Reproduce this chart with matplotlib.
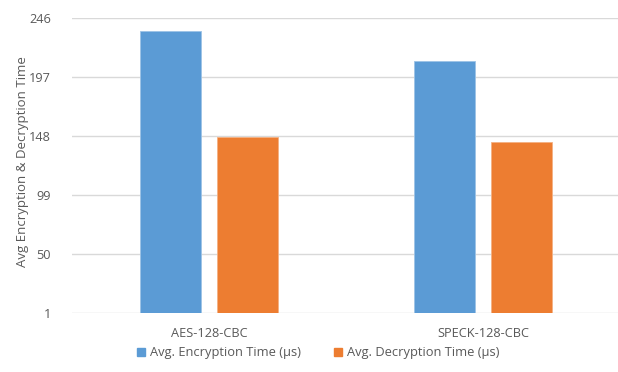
import numpy as np
import matplotlib.pyplot as plt
from matplotlib.patches import Patch

# timing results per cipher (microseconds)
ciphers = ['AES-128-CBC', 'SPECK-128-CBC']
enc_times = [235, 210]
dec_times = [147, 143]
yticks = [1, 50, 99, 148, 197, 246]

blue = '#5B9BD5'
orange = '#ED7D31'
grey_text = '#595959'

plt.rcParams['font.family'] = ['Open Sans', 'DejaVu Sans']

fig = plt.figure(figsize=(6.18, 3.72), dpi=100)
ax = fig.add_axes([0.1165, 0.1586, 0.887, 0.793])

x = np.arange(len(ciphers))
w = 0.222
ax.bar(x - 0.141, enc_times, w, color=blue, edgecolor='#9DC3E6', linewidth=0.6,
       zorder=3)
ax.bar(x + 0.141, dec_times, w, color=orange, edgecolor='#F4B183', linewidth=0.6,
       zorder=3)

ax.set_xlim(-0.5, 1.5)
ax.set_ylim(1, 246)
ax.set_yticks(yticks)
ax.set_yticklabels([str(t) for t in yticks])
ax.set_xticks(x)
ax.set_xticklabels(ciphers)
ax.tick_params(length=0, labelsize=9.2, colors=grey_text)
ax.tick_params(axis='y', pad=15)
ax.tick_params(axis='x', pad=10)
ax.grid(axis='y', color='#D9D9D9', linewidth=1, zorder=0)
for s in ax.spines.values():
    s.set_visible(False)

ax.set_ylabel('Avg Encryption & Decryption Time', fontsize=9.5, color=grey_text)
ax.yaxis.set_label_coords(-0.078, 0.512)

handles = [Patch(color=blue, label='Avg. Encryption Time (µs)'),
           Patch(color=orange, label='Avg. Decryption Time (µs)')]
fig.legend(handles=handles, loc='center', bbox_to_anchor=(0.515, 0.052), ncol=2,
           frameon=False, fontsize=9.3, labelcolor=grey_text, handlelength=0.6,
           handleheight=0.6, handletextpad=0.4, columnspacing=2.6)

fig.savefig('out.png', dpi=100, facecolor='white')
